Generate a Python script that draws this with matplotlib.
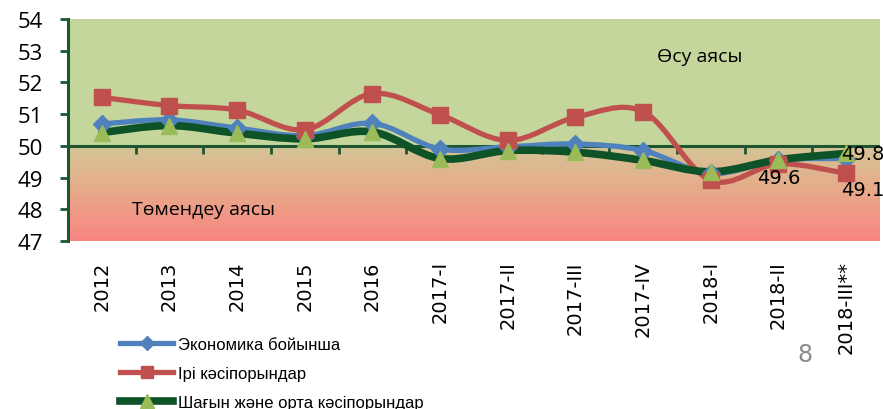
import numpy as np
import matplotlib as mpl
mpl.use('Agg')
import matplotlib.pyplot as plt
from matplotlib.path import Path
from matplotlib.patches import PathPatch
from matplotlib.lines import Line2D

# Data
periods = ['2012', '2013', '2014', '2015', '2016', '2017-I', '2017-II',
           '2017-III', '2017-IV', '2018-I', '2018-II', '2018-III**']
economy = [50.69, 50.82, 50.56, 50.32, 50.71, 49.90, 49.97, 50.06, 49.85, 49.13, 49.55, 49.6]
large = [51.53, 51.27, 51.13, 50.51, 51.65, 50.98, 50.17, 50.90, 51.08, 48.91, 49.43, 49.13]
sme = [50.42, 50.64, 50.40, 50.22, 50.44, 49.60, 49.85, 49.80, 49.54, 49.18, 49.56, 49.76]
names = ['Экономика бойынша', 'Ірі кәсіпорындар', 'Шағын және орта кәсіпорындар']

ymin, ymax, ybase = 47, 54, 50

# Colours
c_blue = '#4F81BD'
c_red = '#C0504D'
c_dgreen = '#0E5227'
c_tri = '#9BBB59'
c_axis = '#1E5631'


def smooth_path(xs, ys):
    # Excel-like smoothed line (Catmull-Rom as cubic Bezier)
    pts = np.column_stack([xs, ys]).astype(float)
    n = len(pts)
    verts = [pts[0]]
    codes = [Path.MOVETO]
    for i in range(n - 1):
        p0 = pts[i - 1] if i > 0 else pts[i]
        p1 = pts[i]
        p2 = pts[i + 1]
        p3 = pts[i + 2] if i + 2 < n else pts[i + 1]
        verts += [p1 + (p2 - p0) / 6, p2 - (p3 - p1) / 6, p2]
        codes += [Path.CURVE4] * 3
    return Path(verts, codes)


fig = plt.figure(figsize=(8.83, 4.10), dpi=100)
ax = fig.add_axes([0.077, 0.41, 0.9195, 0.541])
x = np.arange(len(periods))

# Background zones
ax.axhspan(ybase, ymax, color='#C4D69C', zorder=0)
grad = np.linspace(0, 1, 64).reshape(-1, 1)
cmap = mpl.colors.LinearSegmentedColormap.from_list('zone', ['#D4C597', '#E8A889', '#FA8583'])
ax.imshow(grad, cmap=cmap, aspect='auto', extent=(-0.5, len(periods) - 0.5, ymin, ybase),
          origin='upper', interpolation='bicubic', zorder=0)
ax.set_xlim(-0.5, len(periods) - 0.5)
ax.set_ylim(ymin, ymax)

# Axis line at 50 with category ticks
ax.axhline(ybase, color=c_axis, lw=2.2, zorder=1)
ax.vlines(np.arange(len(periods) - 1) + 0.5, ybase - 0.25, ybase, color=c_axis, lw=2, zorder=1)

# Series
series = [(economy, c_blue, 'D', c_blue, 3.8, 9),
          (large, c_red, 's', c_red, 3.8, 11),
          (sme, c_dgreen, '^', c_tri, 5.5, 12)]
for vals, col, mk, mcol, lw, ms in series:
    ax.add_patch(PathPatch(smooth_path(x, vals), fill=False, edgecolor=col, lw=lw,
                           capstyle='round', joinstyle='round', zorder=3))
    ax.plot(x, vals, ls='none', marker=mk, color=mcol, ms=ms, zorder=4)

# Data labels
ax.text(x[10], economy[10] - 0.25, '49.6', ha='center', va='top', fontsize=14, zorder=5)
ax.text(x[11] - 0.08, sme[11], '49.8', ha='left', va='center', fontsize=14, zorder=5)
ax.text(x[11] - 0.08, large[11] - 0.2, '49.1', ha='left', va='top', fontsize=14, zorder=5)

# Zone captions
ax.text(8.83, 52.85, 'Өсу аясы', ha='center', va='center', fontsize=14, family='Open Sans')
ax.text(1.5, 48.0, 'Төмендеу аясы', ha='center', va='center', fontsize=14, family='Open Sans')

# Axes styling
for s in ['top', 'right', 'bottom']:
    ax.spines[s].set_visible(False)
ax.spines['left'].set_color(c_axis)
ax.spines['left'].set_linewidth(2.2)
ax.set_yticks(range(ymin, ymax + 1))
ax.tick_params(axis='y', direction='out', length=6, width=2, color=c_axis, pad=12, labelsize=16)
for lab in ax.get_yticklabels():
    lab.set_family('Open Sans')
ax.set_xticks(x)
ax.set_xticklabels(periods, rotation=90, fontsize=14)
ax.tick_params(axis='x', length=0, pad=14)

# Legend
handles = [Line2D([], [], color=c, lw=lw, marker=mk, markerfacecolor=mc, markeredgecolor=mc, ms=ms * 0.8)
           for _, c, mk, mc, lw, ms in series]
leg = fig.legend(handles, names, loc='upper left', bbox_to_anchor=(0.136, 0.176),
                 frameon=False, fontsize=12, handlelength=3.2, handletextpad=0.3,
                 labelspacing=0.85, borderaxespad=0, borderpad=0)
for t in leg.get_texts():
    t.set_family(['Liberation Sans Narrow', 'Liberation Sans'])

# Page number
fig.text(0.912, 0.135, '8', color='#8C8C8C', fontsize=17, ha='center', va='center')

fig.savefig('out.png', dpi=100)
